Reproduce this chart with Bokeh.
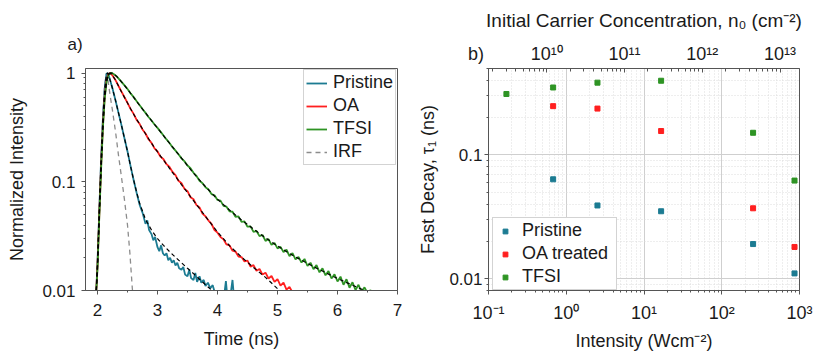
from bokeh.plotting import figure
from bokeh.layouts import row
from bokeh.models import Range1d, LogScale, LogAxis, FixedTicker, Legend, LegendItem
from bokeh.embed import file_html
from bokeh.resources import INLINE

FONT = "Liberation Sans"
AX = "#555555"
TXT = "#1a1a1a"
C_PRI = "#1c7b92"
C_OA = "#ff1f1f"
C_TF = "#2e9424"
C_IRF = "#8c8c8c"

# ---------------- panel a) : PL decays ----------------
t_pri = [1.98, 2.00, 2.03, 2.06, 2.09, 2.12, 2.15, 2.17, 2.20,
         2.25, 2.30, 2.35, 2.40, 2.45, 2.50, 2.55, 2.60, 2.65, 2.70, 2.75, 2.80,
         2.83, 2.86, 2.90, 2.93, 2.96, 3.00,
         3.03, 3.06, 3.09, 3.12, 3.15, 3.18, 3.21, 3.24, 3.27, 3.30, 3.33, 3.36,
         3.40, 3.43, 3.46, 3.50, 3.53, 3.56, 3.60, 3.63, 3.66, 3.70, 3.73, 3.77, 3.80, 3.84, 3.88, 3.92, 3.95,
         3.98, 4.02, 4.06, 4.10, 4.14, 4.17, 4.21, 4.25, 4.28, 4.32]
i_pri = [0.010, 0.018, 0.055, 0.16, 0.38, 0.72, 0.98, 1.00, 0.90,
         0.72, 0.56, 0.43, 0.33, 0.25, 0.19, 0.14, 0.105, 0.08, 0.062, 0.052, 0.041,
         0.044, 0.036, 0.033, 0.029, 0.031, 0.025,
         0.023, 0.026, 0.022, 0.021, 0.022, 0.019, 0.020, 0.018, 0.019, 0.017, 0.018, 0.016,
         0.0155, 0.0165, 0.014, 0.0135, 0.0155, 0.013, 0.0125, 0.0145, 0.012, 0.0135, 0.0118, 0.0125, 0.011, 0.0118, 0.0105, 0.0112, 0.0098,
         0.009, 0.0085, 0.0095, 0.008, 0.0122, 0.008, 0.0085, 0.0125, 0.008, 0.007]

t_pri_fit = [1.98, 2.00, 2.03, 2.06, 2.09, 2.12, 2.15, 2.17, 2.20, 2.25, 2.30, 2.35, 2.40, 2.45,
             2.50, 2.55, 2.60, 2.65, 2.70, 2.80, 2.90, 3.00, 3.10, 3.20, 3.30, 3.40, 3.50, 3.60,
             3.70, 3.80, 3.90, 4.00]
i_pri_fit = [0.010, 0.018, 0.055, 0.16, 0.38, 0.72, 0.98, 1.00, 0.90, 0.72, 0.56, 0.43, 0.33, 0.25,
             0.19, 0.14, 0.105, 0.081, 0.064, 0.045, 0.036, 0.030, 0.026, 0.0228, 0.0202, 0.018, 0.016, 0.0143,
             0.0127, 0.0113, 0.0101, 0.009]

t_oa = [1.98, 2.00, 2.03, 2.06, 2.09, 2.12, 2.15, 2.18, 2.21, 2.25,
        2.30, 2.35, 2.40, 2.45, 2.50, 2.55, 2.60, 2.65, 2.70, 2.75, 2.80, 2.85, 2.90, 2.95, 3.00,
        3.05, 3.10, 3.15, 3.20, 3.25, 3.30, 3.35, 3.40, 3.45, 3.50, 3.55, 3.60, 3.65, 3.70, 3.75, 3.80, 3.85, 3.90, 3.95, 4.00,
        4.05, 4.10, 4.15, 4.20, 4.25, 4.30, 4.35, 4.40, 4.45, 4.50, 4.55, 4.60, 4.65, 4.70, 4.75, 4.80, 4.85, 4.90, 4.95, 5.00,
        5.05, 5.10, 5.15, 5.20, 5.25, 5.30]
i_oa = [0.010, 0.017, 0.05, 0.14, 0.33, 0.62, 0.86, 0.98, 1.00, 0.95,
        0.86, 0.76, 0.675, 0.598, 0.532, 0.468, 0.423, 0.372, 0.342, 0.302, 0.278, 0.246, 0.228, 0.203, 0.19,
        0.17, 0.161, 0.145, 0.137, 0.123, 0.115, 0.102, 0.097, 0.086, 0.082, 0.072, 0.069, 0.061, 0.058, 0.051, 0.048, 0.044, 0.041, 0.036, 0.034,
        0.031, 0.0295, 0.0265, 0.026, 0.0232, 0.0228, 0.0205, 0.0203, 0.0185, 0.0188, 0.0166, 0.0171, 0.0152, 0.0158, 0.014, 0.0146, 0.0129, 0.0136, 0.012, 0.0127,
        0.0111, 0.0118, 0.0102, 0.0108, 0.0096, 0.0089]

t_oa_fit = [1.98, 2.00, 2.03, 2.06, 2.09, 2.12, 2.15, 2.18, 2.21, 2.25,
            2.30, 2.40, 2.50, 2.60, 2.70, 2.80, 2.90, 3.00,
            3.20, 3.40, 3.60, 3.80, 4.00, 4.20, 4.40, 4.60, 4.80, 5.00, 5.10]
i_oa_fit = [0.010, 0.017, 0.05, 0.14, 0.33, 0.62, 0.86, 0.98, 1.00, 0.95,
            0.86, 0.67, 0.53, 0.42, 0.34, 0.276, 0.226, 0.188,
            0.133, 0.094, 0.067, 0.048, 0.0345, 0.0258, 0.0203, 0.0163, 0.0132, 0.0104, 0.0094]

t_tf = [1.98, 2.00, 2.03, 2.06, 2.09, 2.12, 2.15, 2.18, 2.21, 2.24, 2.28, 2.32, 2.36, 2.40,
        2.45, 2.50, 2.55, 2.60, 2.65, 2.70, 2.75, 2.80, 2.85, 2.90, 2.95, 3.00,
        3.05, 3.10, 3.15, 3.20, 3.25, 3.30, 3.35, 3.40, 3.45, 3.50, 3.55, 3.60, 3.65, 3.70, 3.75, 3.80, 3.85, 3.90, 3.95, 4.00,
        4.05, 4.10, 4.15, 4.20, 4.25, 4.30, 4.35, 4.40, 4.45, 4.50, 4.55, 4.60, 4.65, 4.70, 4.75, 4.80, 4.85, 4.90, 4.95, 5.00,
        5.05, 5.10, 5.15, 5.20, 5.25, 5.30, 5.35, 5.40, 5.45, 5.50, 5.55, 5.60, 5.65, 5.70, 5.75, 5.80, 5.85, 5.90, 5.95, 6.00,
        6.05, 6.10, 6.15, 6.20, 6.25, 6.30, 6.35, 6.40, 6.45, 6.50, 6.55, 6.60]
i_tf = [0.010, 0.016, 0.048, 0.13, 0.31, 0.58, 0.82, 0.95, 0.995, 1.00, 0.97, 0.93, 0.88, 0.83,
        0.77, 0.712, 0.652, 0.603, 0.553, 0.508, 0.466, 0.43, 0.394, 0.366, 0.336, 0.313,
        0.289, 0.266, 0.245, 0.227, 0.208, 0.193, 0.179, 0.164, 0.154, 0.141, 0.133, 0.121, 0.113, 0.102, 0.097, 0.089, 0.085, 0.077, 0.075, 0.068,
        0.067, 0.06, 0.059, 0.0535, 0.053, 0.0475, 0.048, 0.0428, 0.0432, 0.0386, 0.0389, 0.0346, 0.0353, 0.0316, 0.0324, 0.0286, 0.0297, 0.0263, 0.0274, 0.0244,
        0.0252, 0.0226, 0.0237, 0.0207, 0.0221, 0.0193, 0.0204, 0.0181, 0.0195, 0.0168, 0.018, 0.0157, 0.0171, 0.0147, 0.016, 0.0138, 0.0151, 0.0129, 0.0141, 0.0121,
        0.0134, 0.0113, 0.0127, 0.0106, 0.0119, 0.0101, 0.0113, 0.0097, 0.0107, 0.0095, 0.0101, 0.0089]

t_tf_fit = [1.98, 2.00, 2.03, 2.06, 2.09, 2.12, 2.15, 2.18, 2.21, 2.24, 2.28, 2.32, 2.36, 2.40,
            2.50, 2.60, 2.70, 2.80, 2.90, 3.00,
            3.20, 3.40, 3.60, 3.80, 4.00, 4.20, 4.40, 4.60, 4.80, 5.00, 5.20, 5.40, 5.60, 5.80, 6.00, 6.20, 6.40, 6.50]
i_tf_fit = [0.010, 0.016, 0.048, 0.13, 0.31, 0.58, 0.82, 0.95, 0.995, 1.00, 0.97, 0.93, 0.88, 0.83,
            0.71, 0.60, 0.505, 0.43, 0.365, 0.312,
            0.226, 0.165, 0.12, 0.09, 0.069, 0.055, 0.0445, 0.0368, 0.0305, 0.0257, 0.0219, 0.019, 0.0166, 0.0146, 0.0129, 0.0115, 0.0103, 0.0098]

t_irf = [1.98, 2.00, 2.03, 2.06, 2.09, 2.12, 2.15, 2.17, 2.20, 2.25, 2.30, 2.35, 2.40, 2.45, 2.50, 2.54, 2.58, 2.60]
i_irf = [0.010, 0.02, 0.06, 0.17, 0.42, 0.78, 1.0, 0.9, 0.68, 0.45, 0.29, 0.175, 0.11, 0.068, 0.04, 0.022, 0.0105, 0.008]

a_xticks = [2, 3, 4, 5, 6, 7]
a_xlabels = ["2", "3", "4", "5", "6", "7"]
a_xminor = [2.5, 3.5, 4.5, 5.5, 6.5]
a_yticks = [0.01, 0.1, 1]
a_ylabels = ["0.01", "0.1", "1"]
a_yminor = [0.02, 0.03, 0.04, 0.05, 0.06, 0.07, 0.08, 0.09, 0.2, 0.3, 0.4, 0.5, 0.6, 0.7, 0.8, 0.9]

# ---------------- panel b) : fast decay vs intensity ----------------
inten_pri = [0.678, 2.52, 16.6, 253, 863]
tau_pri = [0.0635, 0.039, 0.035, 0.019, 0.011]
inten_oa = [0.678, 2.52, 16.6, 253, 863]
tau_oa = [0.248, 0.237, 0.156, 0.037, 0.018]
inten_tf = [0.17, 0.678, 2.52, 16.6, 253, 863]
tau_tf = [0.311, 0.351, 0.384, 0.398, 0.151, 0.062]
n0_per_intensity = 1.78e10   # cm^-2 per W cm^-2

b_xticks = [0.1, 1, 10, 100, 1000]
b_xlabels = ["10\u207b\u00b9", "10\u2070", "10\u00b9", "10\u00b2", "10\u00b3"]
b_xminor = [m * d for d in (0.1, 1, 10, 100) for m in range(2, 10)]
b_yticks = [0.01, 0.1]
b_ylabels = ["0.01", "0.1"]
b_yminor = [0.008, 0.009, 0.02, 0.03, 0.04, 0.05, 0.06, 0.07, 0.08, 0.09, 0.2, 0.3, 0.4, 0.5]
b_tticks = [1e10, 1e11, 1e12, 1e13]
b_tlabels = ["10\u00b9\u2070", "10\u00b9\u00b9", "10\u00b9\u00b2", "10\u00b9\u00b3"]
b_tminor = [m * d for d in (1e9, 1e10, 1e11, 1e12) for m in range(2, 10)] + [2e13]


def style_axis(ax, ticks, minor, labels, tout=4, tin=0, mout=2, min_=0, loff=5, toff=10, fs="17px"):
    ax.ticker = FixedTicker(ticks=ticks, minor_ticks=minor)
    ax.major_label_overrides = dict(zip(ticks, labels))
    ax.axis_line_color = AX
    ax.major_tick_line_color = AX
    ax.minor_tick_line_color = AX
    ax.major_tick_out = tout
    ax.major_tick_in = tin
    ax.minor_tick_out = mout
    ax.minor_tick_in = min_
    ax.major_label_standoff = loff
    ax.axis_label_standoff = toff
    ax.major_label_text_font = FONT
    ax.major_label_text_font_size = fs
    ax.major_label_text_color = TXT
    ax.axis_label_text_font = FONT
    ax.axis_label_text_font_size = "18px"
    ax.axis_label_text_font_style = "normal"
    ax.axis_label_text_color = TXT
    return ax.ticker


# ---------------- figure a) ----------------
p1 = figure(width=410, height=353, x_range=Range1d(1.8, 7), y_range=Range1d(0.01, 1.1),
            y_axis_type="log", output_backend="svg", toolbar_location=None,
            min_border_left=85, min_border_right=13, min_border_top=68, min_border_bottom=57)
p1.outline_line_color = AX
p1.xgrid.visible = False
p1.ygrid.visible = False
p1.xaxis.axis_label = "Time (ns)"
p1.yaxis.axis_label = "Normalized Intensity"
style_axis(p1.below[0], a_xticks, a_xminor, a_xlabels, loff=9, toff=10)
style_axis(p1.left[0], a_yticks, a_yminor, a_ylabels, loff=6, toff=12)

p1.title.text = "a)"
p1.title.align = "left"
p1.title.offset = -18
p1.title.standoff = 30
p1.title.text_font = FONT
p1.title.text_font_size = "17px"
p1.title.text_font_style = "normal"
p1.title.text_color = TXT

r_irf = p1.line(t_irf, i_irf, line_color=C_IRF, line_width=1.3, line_dash="5 4")
r_pri = p1.line(t_pri, i_pri, line_color=C_PRI, line_width=1.8)
r_oa = p1.line(t_oa, i_oa, line_color=C_OA, line_width=1.8)
r_tf = p1.line(t_tf, i_tf, line_color=C_TF, line_width=1.8)
for tt, ii in ((t_pri_fit, i_pri_fit), (t_oa_fit, i_oa_fit), (t_tf_fit, i_tf_fit)):
    p1.line(tt, ii, line_color="black", line_width=1.2, line_dash="4 3")

leg1 = Legend(items=[LegendItem(label="Pristine", renderers=[r_pri]),
                     LegendItem(label="OA", renderers=[r_oa]),
                     LegendItem(label="TFSI", renderers=[r_tf]),
                     LegendItem(label="IRF", renderers=[r_irf])],
              location=(218, 125), margin=0, padding=2, spacing=2,
              label_height=20, glyph_height=20, glyph_width=21, label_standoff=6,
              label_text_font=FONT, label_text_font_size="18px", label_text_color=TXT,
              border_line_color="#a8a8a8", background_fill_alpha=1)
p1.add_layout(leg1)

# ---------------- figure b) ----------------
p2 = figure(width=404, height=353, x_range=Range1d(0.1, 1000), y_range=Range1d(0.008, 0.5),
            x_axis_type="log", y_axis_type="log", output_backend="svg", toolbar_location=None,
            min_border_left=78, min_border_right=15, min_border_top=68, min_border_bottom=57)
p2.outline_line_color = AX
p2.xaxis.axis_label = "Intensity (Wcm\u207b\u00b2)"
p2.yaxis.axis_label = "Fast Decay, \u03c4\u2081 (ns)"
xt = style_axis(p2.below[0], b_xticks, b_xminor, b_xlabels, loff=8, toff=5, fs="18px")
yt = style_axis(p2.left[0], b_yticks, b_yminor, b_ylabels, loff=2, toff=8)
for g, tk in ((p2.xgrid[0], xt), (p2.ygrid[0], yt)):
    g.ticker = tk
    g.grid_line_color = "#cfcfcf"
    g.minor_grid_line_color = "#dcdcdc"
    g.minor_grid_line_dash = "1 2"

n0_start = 0.1 * n0_per_intensity
p2.extra_x_ranges = {"n0": Range1d(n0_start, 1000 * n0_per_intensity)}
p2.extra_x_scales = {"n0": LogScale()}
top = LogAxis(x_range_name="n0", axis_label="Initial Carrier Concentration, n\u2080 (cm\u207b\u00b2)")
p2.add_layout(top, "above")
# the panel tag "b)" is carried as the label of the top axis' first (left-edge) tick
style_axis(top, [n0_start] + b_tticks, b_tminor, ["b)\u00a0\u00a0\u00a0\u00a0\u00a0"] + b_tlabels,
           tout=0, tin=4, mout=0, min_=3, loff=5, toff=10, fs="18px")
top.axis_label_text_font_size = "19px"

s_pri = p2.scatter(inten_pri, tau_pri, marker="square", size=5, color=C_PRI)
s_oa = p2.scatter(inten_oa, tau_oa, marker="square", size=5, color=C_OA)
s_tf = p2.scatter(inten_tf, tau_tf, marker="square", size=5, color=C_TF)

leg2 = Legend(items=[LegendItem(label="Pristine", renderers=[s_pri]),
                     LegendItem(label="OA treated", renderers=[s_oa]),
                     LegendItem(label="TFSI", renderers=[s_tf])],
              location=(4, 0), margin=0, padding=2, spacing=2,
              label_height=20, glyph_height=12, glyph_width=20, label_standoff=7, label_width=92,
              label_text_font=FONT, label_text_font_size="18px", label_text_color=TXT,
              border_line_color="#a8a8a8", background_fill_alpha=1)
p2.add_layout(leg2)

layout = row(p1, p2)
open("out.html", "w").write(file_html(layout, INLINE))
